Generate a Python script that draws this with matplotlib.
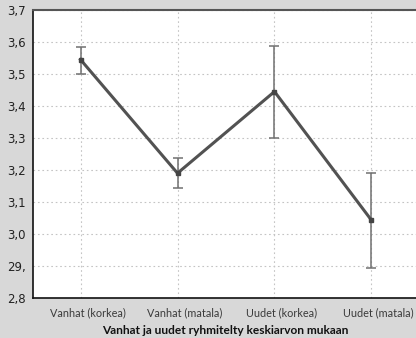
import matplotlib
matplotlib.use("Agg")
import matplotlib.pyplot as plt
import matplotlib.transforms as mtransforms

categories = ["Vanhat (korkea)", "Vanhat (matala)", "Uudet (korkea)", "Uudet (matala)"]
means = [3.545, 3.19, 3.445, 3.043]
upper = [3.585, 3.237, 3.588, 3.19]
lower = [3.50, 3.144, 3.30, 2.894]
ytick_vals = [2.8, 2.9, 3.0, 3.1, 3.2, 3.3, 3.4, 3.5, 3.6, 3.7]
ytick_labels = ["2,8", "29,", "3,0", "3,1", "3,2", "3,3", "3,4", "3,5", "3,6", "3,7"]
title = "Vanhat ja uudet ryhmitelty keskiarvon mukaan"

bg = "#d8d8d8"
fig = plt.figure(figsize=(4.16, 3.38), dpi=100, facecolor=bg)
ax = fig.add_axes([33/416, 40/338, (419-33)/416, 288/338])
ax.set_facecolor("white")

x = list(range(len(categories)))
yerr = [[m - l for m, l in zip(means, lower)], [u - m for m, u in zip(means, upper)]]
ax.errorbar(x, means, yerr=yerr, fmt="none", ecolor="#707070", elinewidth=1.1,
            capsize=3.5, capthick=1.1, zorder=3)
ax.plot(x, means, color="#525252", linewidth=2.2, marker="s", markersize=3.5,
        markerfacecolor="#444444", markeredgecolor="#444444", zorder=4)

ax.set_xlim(-0.49, 3.49)
ax.set_ylim(2.8, 3.7)
ax.set_yticks(ytick_vals)
ax.set_yticklabels(ytick_labels, fontsize=8.5, color="#222222")
ax.set_xticks(x)
ax.set_xticklabels(categories, fontsize=7.8, color="#3a3a3a", family="Lato")
ax.tick_params(axis="both", length=0)
ax.tick_params(axis="y", pad=5)
ax.tick_params(axis="x", pad=7)
offset = mtransforms.ScaledTranslation(0.07, 0, fig.dpi_scale_trans)
for lbl in ax.get_xticklabels():
    lbl.set_transform(lbl.get_transform() + offset)

ax.grid(True, color="#c4c4c4", linestyle=(0, (1.5, 2.5)), linewidth=0.8)
ax.set_axisbelow(True)

for s in ["left", "bottom"]:
    ax.spines[s].set_color("#111111")
    ax.spines[s].set_linewidth(1.2)
ax.spines["top"].set_color("#555555")
ax.spines["top"].set_linewidth(1.5)
ax.spines["right"].set_visible(False)

fig.text(225/416, 1 - 330/338, title, ha="center", va="center", fontsize=8.6,
         fontweight="bold", color="#111111", family="Lato")

fig.savefig("out.png", dpi=100, facecolor=bg)
